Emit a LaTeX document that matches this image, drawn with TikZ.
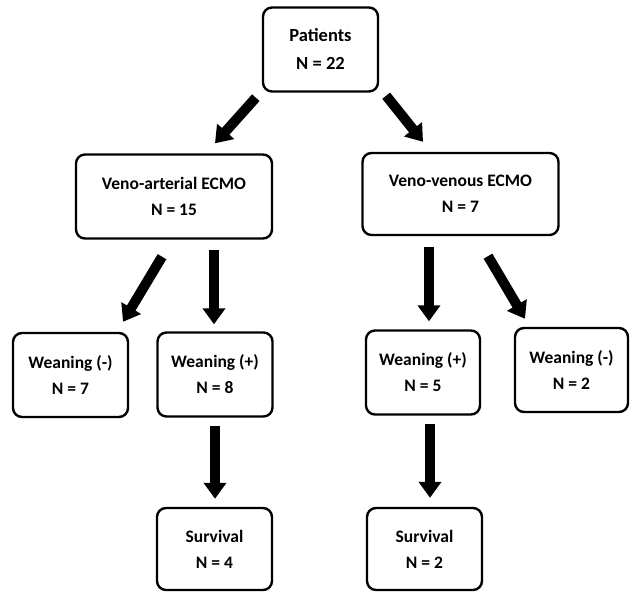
\documentclass[tikz,border=0pt]{standalone}
\usepackage{fontspec}
\setmainfont{Carlito}
\usetikzlibrary{arrows.meta,calc}

\begin{document}
\begin{tikzpicture}[x=1pt,y=-1pt]
  % some styles
  \tikzset{
    box/.style={
      draw,
      rounded corners=9pt,
      line width=2.4pt,
      minimum width=115pt,
      minimum height=84pt,
      inner sep=0pt,
      align=center,
      font=\bfseries\fontsize{17.5}{26}\selectfont
    },
    wide/.style={box, minimum width=196pt},
    arr/.style={
      line width=10pt,
      -{Triangle[width=22pt,length=16pt]}
    }
  }

\useasboundingbox (0,0) rectangle (633,593);

\node[box,font=\bfseries\fontsize{18.5}{28}\selectfont] (pat) at (320.5,49.5) {Patients\\N = 22};

\node[wide] (va) at (174,196.5) {Veno-arterial ECMO\\N = 15};
\node[wide,minimum height=82pt] (vv) at (460.5,194) {Veno-venous ECMO\\N = 7};

\node[box] (wmL) at (70.5,375) {Weaning (-)\\N = 7};
\node[box] (wpL) at (215,374.5) {Weaning (+)\\N = 8};
\node[box,minimum width=114pt] (wpR) at (423,372.5) {Weaning (+)\\N = 5};
\node[box,minimum width=113pt] (wmR) at (571.5,370) {Weaning (-)\\N = 2};

\node[box,minimum height=82pt] (svL) at (214.5,549) {Survival\\N = 4};
\node[box,minimum height=82pt] (svR) at (424.5,549) {Survival\\N = 2};

% arrows
\draw[arr] ($(pat.south west)+(-6,5)$) -- ($(va.north)+(41,-10)$);
\draw[arr] ($(pat.south east)+(7,3)$) -- ($(vv.north)+(-37.5,-10)$);
\draw[arr] ($(va.south)+(-12,17)$) -- ($(wmL.north)+(52.5,-10)$);
\draw[arr] ($(va.south)+(40,10)$) -- ($(wpL.north)+(-1,-7)$);
\draw[arr] ($(vv.south)+(-31.5,11)$) -- ($(wpR.north)+(6,-8)$);
\draw[arr] ($(vv.south)+(27.5,20)$) -- ($(wmR.north)+(-46.5,-8)$);
\draw[arr] ($(wpL.south)+(0,8)$) -- ($(svL.north)+(0.5,-8)$);
\draw[arr] ($(wpR.south)+(7,8)$) -- ($(svR.north)+(5.5,-9)$);

\end{tikzpicture}
\end{document}
